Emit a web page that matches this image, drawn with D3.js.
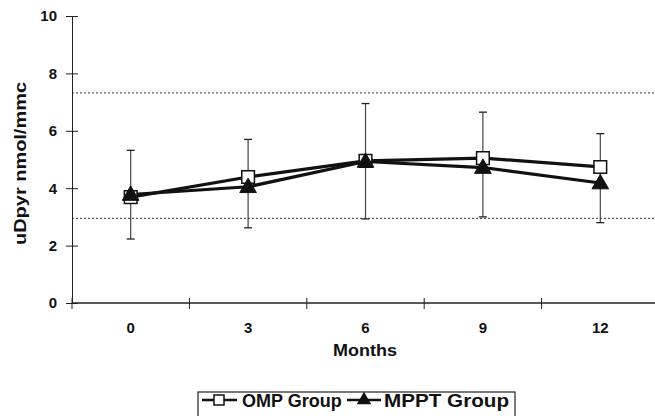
<!DOCTYPE html>
<html>
<head>
<meta charset="utf-8">
<script src="https://d3js.org/d3.v7.min.js"></script>
<style>
  body { margin: 0; background: #fff; }
  text { font-family: "Liberation Sans", Arial, sans-serif; font-weight: bold; fill: #111; }
</style>
</head>
<body>
<svg width="655" height="416"></svg>
<script>
// Chart data
var months = ["0", "3", "6", "9", "12"];
var ompValues = [3.69, 4.39, 4.95, 5.05, 4.74];
var mpptValues = [3.78, 4.05, 4.93, 4.72, 4.18];
var errorHigh = [5.32, 5.70, 6.95, 6.65, 5.90];
var errorLow = [2.23, 2.62, 2.93, 3.00, 2.80];
var refLines = [7.32, 2.95];
var yTicks = [0, 2, 4, 6, 8, 10];

var svg = d3.select("svg"),
    width = +svg.attr("width"),
    height = +svg.attr("height");

// Scales
var x = d3.scaleBand()
    .domain(months)
    .range([72, 659]);

var y = d3.scaleLinear()
    .domain([0, 10])
    .range([303, 16]);

var line = d3.line()
    .x(function (d, i) { return x(months[i]) + x.bandwidth() / 2; })
    .y(function (d) { return y(d); });

// Reference dotted lines
svg.selectAll(".ref")
    .data(refLines)
    .enter()
    .append("line")
    .attr("class", "ref")
    .attr("x1", 72)
    .attr("x2", width)
    .attr("y1", function (d) { return y(d); })
    .attr("y2", function (d) { return y(d); })
    .style("stroke", "#333")
    .style("stroke-width", 1)
    .style("stroke-dasharray", "2,2");

// Y axis
var yAxis = svg.append("g")
    .attr("transform", "translate(72,0)")
    .call(d3.axisLeft(y).tickValues(yTicks).tickSize(6).tickPadding(9));
yAxis.select(".domain").style("stroke", "#222");
yAxis.selectAll(".tick line")
    .attr("x1", -6)
    .attr("x2", 6)
    .style("stroke", "#222");
yAxis.selectAll(".tick text")
    .style("font-size", "15px")
    .style("font-family", "Liberation Sans, Arial, sans-serif")
    .style("font-weight", "bold")
    .style("fill", "#111");

// X axis with ticks between categories
var xAxis = svg.append("g")
    .attr("transform", "translate(0,303)");
xAxis.append("line")
    .attr("x1", 72)
    .attr("x2", 659)
    .style("stroke", "#222")
    .style("stroke-width", 1.3);
xAxis.selectAll(".xtick")
    .data(months)
    .enter()
    .append("line")
    .attr("class", "xtick")
    .attr("x1", function (d) { return x(d); })
    .attr("x2", function (d) { return x(d); })
    .attr("y1", -5)
    .attr("y2", 6)
    .style("stroke", "#222");
xAxis.selectAll(".xlabel")
    .data(months)
    .enter()
    .append("text")
    .attr("class", "xlabel")
    .attr("x", function (d) { return x(d) + x.bandwidth() / 2; })
    .attr("y", 30)
    .attr("text-anchor", "middle")
    .style("font-size", "15px")
    .text(function (d) { return d; });

// Axis titles
svg.append("text")
    .attr("x", 333)
    .attr("y", 356)
    .attr("textLength", 64)
    .attr("lengthAdjust", "spacingAndGlyphs")
    .style("font-size", "17px")
    .text("Months");

svg.append("text")
    .attr("transform", "translate(26,245) rotate(-90)")
    .attr("textLength", 163)
    .attr("lengthAdjust", "spacingAndGlyphs")
    .style("font-size", "16px")
    .text("uDpyr nmol/mmc");

// Error bars
var err = svg.append("g").attr("class", "errors");
months.forEach(function (m, i) {
    var cx = x(m) + x.bandwidth() / 2;
    err.append("line")
        .attr("x1", cx).attr("x2", cx)
        .attr("y1", y(errorHigh[i])).attr("y2", y(errorLow[i]))
        .style("stroke", "#444").style("stroke-width", 1.2);
    [errorHigh[i], errorLow[i]].forEach(function (v) {
        err.append("line")
            .attr("x1", cx - 4).attr("x2", cx + 4)
            .attr("y1", y(v)).attr("y2", y(v))
            .style("stroke", "#222").style("stroke-width", 1.3);
    });
});

// Lines
svg.append("path")
    .datum(ompValues)
    .attr("d", line)
    .style("fill", "none")
    .style("stroke", "#111")
    .style("stroke-width", 3.2);

svg.append("path")
    .datum(mpptValues)
    .attr("d", line)
    .style("fill", "none")
    .style("stroke", "#111")
    .style("stroke-width", 3.2);

// Markers
var square = d3.symbol().type(d3.symbolSquare).size(160);
var triangle = d3.symbol().type(d3.symbolTriangle).size(120);

svg.selectAll(".omp")
    .data(ompValues)
    .enter()
    .append("path")
    .attr("class", "omp")
    .attr("d", square)
    .attr("transform", function (d, i) {
        return "translate(" + (x(months[i]) + x.bandwidth() / 2) + "," + y(d) + ")";
    })
    .style("fill", "#fff")
    .style("stroke", "#111")
    .style("stroke-width", 1.5);

svg.selectAll(".mppt")
    .data(mpptValues)
    .enter()
    .append("path")
    .attr("class", "mppt")
    .attr("d", triangle)
    .attr("transform", function (d, i) {
        return "translate(" + (x(months[i]) + x.bandwidth() / 2) + "," + (y(d) + 1) + ")";
    })
    .style("fill", "#111")
    .style("stroke", "#111")
    .style("stroke-width", 1);

// Legend
var legend = svg.append("g");
legend.append("rect")
    .attr("x", 198)
    .attr("y", 392)
    .attr("width", 317)
    .attr("height", 30)
    .style("fill", "none")
    .style("stroke", "#222")
    .style("stroke-width", 1.2);

legend.append("line")
    .attr("x1", 202).attr("x2", 237)
    .attr("y1", 400).attr("y2", 400)
    .style("stroke", "#111").style("stroke-width", 2.5);
legend.append("path")
    .attr("d", d3.symbol().type(d3.symbolSquare).size(100))
    .attr("transform", "translate(219,400)")
    .style("fill", "#fff").style("stroke", "#111").style("stroke-width", 1.5);
legend.append("text")
    .attr("x", 242)
    .attr("y", 407)
    .style("font-size", "18px")
    .text("OMP Group");

legend.append("line")
    .attr("x1", 347).attr("x2", 381)
    .attr("y1", 400).attr("y2", 400)
    .style("stroke", "#111").style("stroke-width", 2.5);
legend.append("path")
    .attr("d", d3.symbol().type(d3.symbolTriangle).size(90))
    .attr("transform", "translate(364,400)")
    .style("fill", "#111");
legend.append("text")
    .attr("x", 384)
    .attr("y", 407)
    .attr("textLength", 125)
    .attr("lengthAdjust", "spacingAndGlyphs")
    .style("font-size", "18px")
    .text("MPPT Group");
</script>
</body>
</html>
